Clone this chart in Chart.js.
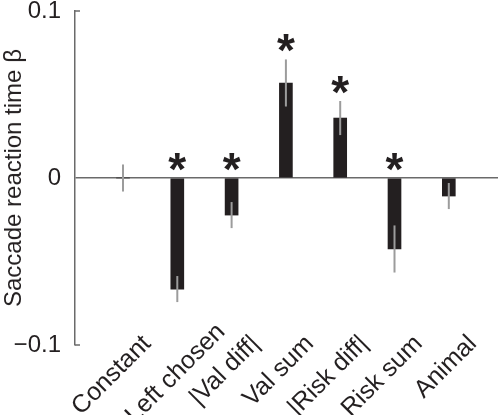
<!DOCTYPE html>
<html><head><meta charset="utf-8">
<script src="https://cdn.jsdelivr.net/npm/chart.js@4/dist/chart.umd.min.js"></script>
<style>
html,body{margin:0;padding:0;background:#fff}
#wrap{position:relative;width:498px;height:415px}
canvas{display:block}
#ytitle{position:absolute;left:13px;top:178px;transform:translate(-50%,-50%) rotate(-90deg);white-space:nowrap;font:24px "Liberation Sans",Arial,Helvetica,sans-serif;line-height:1;color:#231f20}
</style>
</head><body><div id="wrap"><canvas id="c" width="498" height="415"></canvas><div id="ytitle"></div></div>
<script>
const categories = ['Constant', 'Left chosen', '|Val diff|', 'Val sum', '|Risk diff|', 'Risk sum', 'Animal'];
const betas = [0.0, -0.0665, -0.0222, 0.0569, 0.0359, -0.0425, -0.0108];
const errors = [0.0081, 0.0078, 0.0078, 0.0141, 0.0102, 0.0141, 0.0078];
const significant = [false, true, true, true, true, true, false];
const yTickValues = [0.1, 0, -0.1];
const yTitle = 'Saccade reaction time β';

const FONT = '"Liberation Sans", Arial, Helvetica, sans-serif';
const INK = '#231f20';
const AXIS = '#6a6a6a';

document.getElementById('ytitle').textContent = yTitle;

const overlay = {
  id: 'overlay',
  afterDatasetsDraw(chart, args, opts) {
    const {ctx, scales: {x, y}} = chart;
    // slanted category labels under the axis (drawn first)
    ctx.save();
    ctx.fillStyle = INK;
    ctx.font = opts.fontSize + 'px ' + FONT;
    ctx.textAlign = 'right';
    ctx.textBaseline = 'middle';
    categories.forEach((label, i) => {
      const shift = opts.shift[i] || [0, 0];
      ctx.save();
      ctx.translate(x.getPixelForValue(i) + opts.dx + shift[0], y.bottom + opts.dy + shift[1]);
      ctx.rotate(-Math.PI / 4);
      ctx.fillText(label, 0, 0);
      ctx.restore();
    });
    ctx.restore();

    ctx.save();
    // error bars
    ctx.strokeStyle = '#9c9c9c';
    ctx.lineWidth = 2;
    betas.forEach((v, i) => {
      const px = x.getPixelForValue(i);
      ctx.beginPath();
      ctx.moveTo(px, y.getPixelForValue(v + errors[i]));
      ctx.lineTo(px, y.getPixelForValue(v - errors[i]));
      ctx.stroke();
    });
    // end stubs of the y axis
    ctx.strokeStyle = AXIS;
    ctx.lineWidth = 1.5;
    [y.max, y.min].forEach(v => {
      const py = y.getPixelForValue(v);
      ctx.beginPath();
      ctx.moveTo(x.left, py);
      ctx.lineTo(x.left + 5, py);
      ctx.stroke();
    });
    // significance asterisks
    ctx.fillStyle = INK;
    ctx.font = 'bold 46px ' + FONT;
    ctx.textAlign = 'center';
    ctx.textBaseline = 'alphabetic';
    betas.forEach((v, i) => {
      if (!significant[i]) return;
      const px = x.getPixelForValue(i);
      const top = Math.max(0, v + errors[i]);
      const cy = y.getPixelForValue(top) - 19;
      ctx.fillText('*', px, cy + 26);
    });
    ctx.restore();
  }
};

new Chart(document.getElementById('c'), {
  type: 'bar',
  data: {
    datasets: [{
      data: betas.map((v, i) => ({x: i, y: v})),
      backgroundColor: INK,
      borderWidth: 0,
      barThickness: 13
    }]
  },
  options: {
    responsive: false,
    animation: false,
    devicePixelRatio: 1,
    layout: {padding: {top: 11, right: 0, bottom: 0, left: 0}},
    plugins: {
      legend: {display: false},
      tooltip: {enabled: false},
      overlay: {fontSize: 25, dx: 24, dy: -5, shift: {1: [20, -12]}}
    },
    scales: {
      x: {
        type: 'linear',
        offset: false,
        min: -0.884,
        max: 6.906,
        grid: {display: false, offset: false},
        border: {display: false},
        afterBuildTicks: s => { s.ticks = categories.map((_, i) => ({value: i})); },
        afterFit: s => { s.height = 70; s.paddingLeft = 0; s.paddingRight = 0; },
        ticks: {display: false}
      },
      y: {
        min: -0.1,
        max: 0.1,
        afterBuildTicks: s => { s.ticks = yTickValues.map(v => ({value: v})); },
        afterFit: s => { s.width = 75; s.paddingTop = 0; s.paddingBottom = 0; },
        grid: {
          drawTicks: false,
          lineWidth: 1.5,
          color: c => (c.tick && c.tick.value === 0) ? AXIS : 'rgba(0,0,0,0)'
        },
        border: {display: true, color: AXIS, width: 1.5},
        ticks: {
          padding: 14,
          color: INK,
          font: {size: 24, family: FONT},
          callback: v => v === 0 ? '0' : (v < 0 ? '\u2212' : '') + String(Math.abs(v))
        },
        title: {display: false}
      }
    }
  },
  plugins: [overlay]
});
</script>
</body></html>
